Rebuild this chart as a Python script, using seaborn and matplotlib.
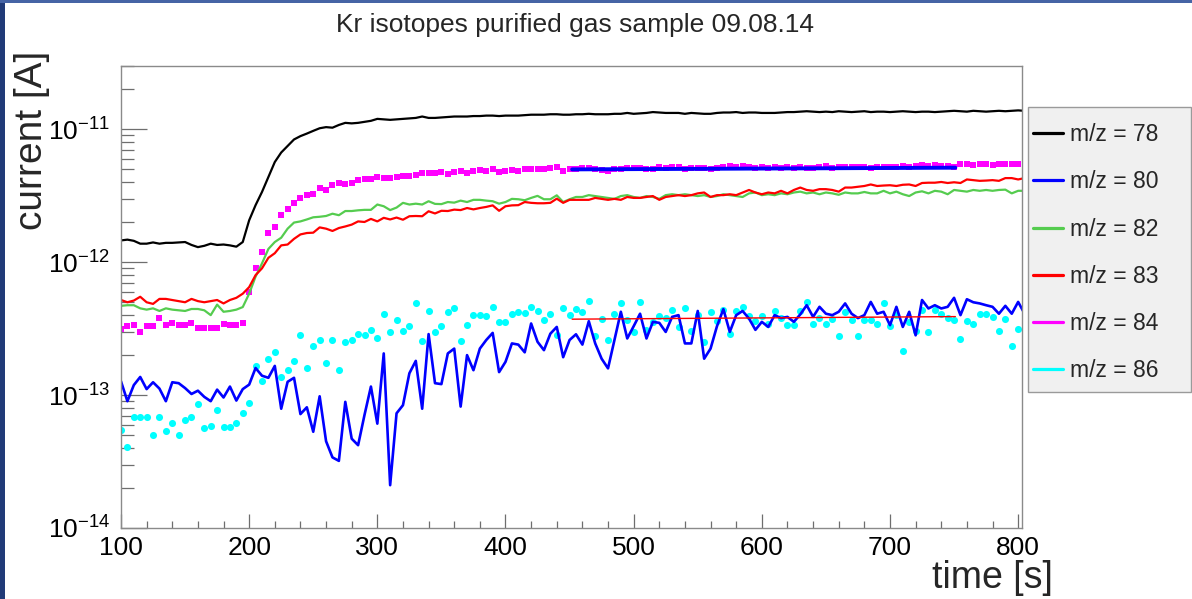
import numpy as np
import matplotlib
matplotlib.use("Agg")
import matplotlib.pyplot as plt
import seaborn as sns
from matplotlib.lines import Line2D
from matplotlib.patches import Rectangle
from matplotlib.ticker import (FixedLocator, LogFormatterMathtext, MultipleLocator,
                               NullFormatter)

# ---------------- data (currents in pA) ----------------
time_s = np.arange(100, 806, 5)

mz78 = [1.46, 1.48, 1.45, 1.38, 1.38, 1.41, 1.38, 1.40, 1.40, 1.41,
        1.42, 1.35, 1.30, 1.33, 1.38, 1.35, 1.36, 1.34, 1.31, 1.42,
        2.07, 2.69, 3.38, 4.38, 5.68, 6.7, 7.5, 8.4, 8.9, 9.3,
        9.75, 10.2, 10.4, 10.3, 10.8, 11.2,
        11.1, 11.2, 11.4, 11.6, 12.0, 11.9, 11.8, 11.9, 12.0, 12.1,
        12.2, 12.5, 12.2, 12.2, 12.3, 12.4, 12.5, 12.5, 12.5, 12.6,
        12.6, 12.7, 12.7, 12.6, 12.7, 12.7, 12.7, 12.8, 12.9, 12.9,
        12.9, 13.0, 13.0, 12.9, 12.9, 13.0,
        13.0, 13.1, 13.0, 13.0, 13.0, 13.1, 13.1, 13.3, 13.1, 13.2,
        13.3, 13.5, 13.4, 13.3, 13.3, 13.3, 13.1, 13.3, 13.2, 13.1,
        13.1, 13.3, 13.4, 13.4, 13.5, 13.3, 13.4, 13.4, 13.3, 13.3,
        13.3, 13.4, 13.5, 13.5, 13.6, 13.7,
        13.6, 13.5, 13.6, 13.5, 13.7, 13.6, 13.5, 13.6, 13.7, 13.5,
        13.6, 13.6, 13.5, 13.6, 13.7, 13.6, 13.5, 13.6, 13.6, 13.5,
        13.6, 13.7, 13.8, 13.7, 13.6, 13.8, 13.7, 13.6, 13.7, 13.8,
        13.7, 13.8, 13.9, 13.8]

mz80 = [0.127, 0.090, 0.119, 0.137, 0.111, 0.125, 0.112, 0.090, 0.125, 0.123,
        0.113, 0.102, 0.108, 0.097, 0.090, 0.110, 0.096, 0.116, 0.091, 0.111,
        0.120, 0.160, 0.140, 0.135, 0.166, 0.079, 0.126, 0.135, 0.072, 0.081,
        0.053, 0.098, 0.045, 0.034, 0.032, 0.089,
        0.047, 0.042, 0.071, 0.116, 0.061, 0.206, 0.021, 0.073, 0.084, 0.146,
        0.181, 0.079, 0.288, 0.123, 0.121, 0.206, 0.224, 0.082, 0.200, 0.154,
        0.224, 0.260, 0.294, 0.149, 0.178, 0.245, 0.240, 0.210, 0.346, 0.252,
        0.218, 0.290, 0.326, 0.193, 0.260, 0.287,
        0.240, 0.360, 0.245, 0.188, 0.159, 0.260, 0.424, 0.267, 0.330, 0.410,
        0.267, 0.356, 0.350, 0.299, 0.388, 0.400, 0.245, 0.245, 0.430, 0.188,
        0.224, 0.330, 0.444, 0.299, 0.400, 0.430, 0.377, 0.310, 0.356, 0.326,
        0.400, 0.380, 0.388, 0.356, 0.405, 0.475,
        0.388, 0.462, 0.410, 0.400, 0.424, 0.490, 0.410, 0.380, 0.400, 0.503,
        0.410, 0.424, 0.336, 0.462, 0.326, 0.424, 0.282, 0.520, 0.449, 0.475,
        0.449, 0.462, 0.540, 0.400, 0.527, 0.500, 0.490, 0.475, 0.462, 0.410,
        0.470, 0.410, 0.503, 0.410]

mz82 = [0.47, 0.475, 0.475, 0.45, 0.44, 0.45, 0.43, 0.45, 0.44, 0.435,
        0.43, 0.445, 0.445, 0.435, 0.40, 0.48, 0.424, 0.43, 0.44, 0.46,
        0.58, 0.78, 0.98, 1.26, 1.42, 1.53, 1.79, 1.99, 2.03, 2.1,
        2.18, 2.2, 2.23, 2.32, 2.26, 2.43,
        2.43, 2.46, 2.48, 2.48, 2.72, 2.64, 2.47, 2.58, 2.8, 2.72,
        2.76, 2.72, 2.88, 2.75, 2.74, 2.84, 2.81, 2.91, 2.84, 2.95,
        2.95, 2.91, 2.88, 2.76, 2.84, 3.0, 2.98, 2.93, 3.05, 3.16,
        2.98, 2.98, 3.19, 2.84, 2.98, 3.1,
        3.1, 3.2, 3.15, 3.1, 3.05, 3.0, 3.15, 3.2, 3.1, 3.05,
        3.15, 3.1, 3.0, 3.2, 3.25, 3.2, 3.25, 3.2, 3.15, 3.2,
        3.1, 3.15, 3.25, 3.2, 3.15, 3.1, 3.3, 3.35, 3.2, 3.25,
        3.2, 3.3, 3.25, 3.35, 3.4, 3.3,
        3.35, 3.25, 3.35, 3.3, 3.22, 3.35, 3.3, 3.3, 3.38, 3.3,
        3.3, 3.45, 3.3, 3.4, 3.25, 3.15, 3.35, 3.42, 3.3, 3.45,
        3.4, 3.25, 3.5, 3.45, 3.4, 3.5, 3.45, 3.5, 3.45, 3.5,
        3.52, 3.3, 3.45, 3.45]

mz83 = [0.52, 0.50, 0.515, 0.55, 0.50, 0.486, 0.53, 0.53, 0.52, 0.51,
        0.50, 0.53, 0.51, 0.50, 0.51, 0.52, 0.49, 0.52, 0.54, 0.58,
        0.65, 0.80, 0.90, 1.08, 1.17, 1.34, 1.36, 1.50, 1.62, 1.66,
        1.67, 1.83, 1.79, 1.72, 1.81, 1.86,
        1.92, 2.03, 2.01, 2.12, 2.03, 2.16, 2.1, 2.17, 2.09, 2.22,
        2.23, 2.22, 2.42, 2.33, 2.44, 2.43, 2.49, 2.47, 2.56, 2.5,
        2.56, 2.61, 2.68, 2.44, 2.64, 2.68, 2.69, 2.84, 2.8, 2.78,
        2.78, 2.8, 3.01, 2.8, 2.95, 2.95,
        2.95, 2.95, 3.05, 3.0, 2.95, 3.0, 2.95, 3.1, 3.05, 3.05,
        3.1, 3.15, 2.95, 3.1, 3.15, 3.2, 3.15, 3.2, 3.3, 3.35,
        3.1, 3.2, 3.2, 3.25, 3.2, 3.35, 3.5, 3.35, 3.25, 3.35,
        3.3, 3.45, 3.3, 3.5, 3.65, 3.5,
        3.45, 3.55, 3.55, 3.5, 3.4, 3.65, 3.65, 3.7, 3.75, 3.85,
        3.75, 3.78, 3.8, 3.75, 3.83, 3.85, 3.75, 3.95, 3.97, 3.97,
        4.02, 3.95, 4.0, 3.95, 4.2, 4.15, 4.1, 4.12, 4.15, 4.1,
        4.3, 4.3, 4.2, 4.3]

mz84 = [0.317, 0.33, 0.34, 0.30, 0.33, 0.33, 0.38, 0.34, 0.35, 0.34,
        0.34, 0.35, 0.32, 0.32, 0.32, 0.32, 0.345, 0.34, 0.34, 0.35,
        0.6, 0.90, 1.2, 1.65, 1.84, 2.26, 2.53, 2.8, 3.05, 3.19,
        3.27, 3.62, 3.48, 3.79, 3.95, 3.91,
        3.97, 4.14, 4.2, 4.26, 4.35, 4.28, 4.33, 4.38, 4.43, 4.48,
        4.54, 4.7, 4.72, 4.72, 4.75, 4.62, 4.8, 4.83, 4.67, 4.83,
        4.92, 4.83, 5.0, 4.75, 4.86, 4.95, 4.83, 5.0, 5.0, 5.06,
        5.0, 5.09, 5.21, 4.83, 5.0, 5.0,
        5.1, 5.15, 5.0, 4.95, 4.9, 5.05, 5.0, 5.1, 5.15, 5.1,
        5.0, 5.05, 5.2, 5.15, 5.2, 5.2, 5.05, 5.1, 5.15, 5.1,
        5.0, 5.15, 5.2, 5.3, 5.25, 5.3, 5.2, 5.15, 5.2, 5.1,
        5.2, 5.15, 5.2, 5.15, 5.25, 5.1,
        5.1, 5.2, 5.3, 5.15, 5.2, 5.25, 5.2, 5.2, 5.25, 5.15,
        5.2, 5.25, 5.2, 5.25, 5.3, 5.25, 5.3, 5.35, 5.3, 5.35,
        5.3, 5.3, 5.25, 5.45, 5.5, 5.4, 5.45, 5.5, 5.4, 5.45,
        5.5, 5.45, 5.5, 5.3]

mz86 = [0.055, 0.041, 0.068, 0.069, 0.069, 0.050, 0.068, 0.054, 0.062, 0.050,
        0.0645, 0.068, 0.0855, 0.0565, 0.059, 0.0767, 0.058, 0.058, 0.062, 0.074,
        0.088, 0.165, 0.128, 0.188, 0.21, 0.137, 0.154, 0.18, 0.285, 0.16,
        0.233, 0.262, 0.176, 0.26, 0.154, 0.252,
        0.262, 0.288, 0.282, 0.311, 0.27, 0.41, 0.30, 0.366, 0.305, 0.333,
        0.49, 0.255, 0.43, 0.299, 0.33, 0.42, 0.449, 0.255, 0.34, 0.40,
        0.40, 0.395, 0.457, 0.356, 0.356, 0.41, 0.424, 0.418, 0.462, 0.433,
        0.366, 0.41, 0.285, 0.449, 0.40, 0.444,
        0.424, 0.51, 0.28, 0.372, 0.26, 0.405, 0.497, 0.37, 0.30, 0.50,
        0.307, 0.356, 0.395, 0.382, 0.44, 0.323, 0.452, 0.305, 0.40, 0.252,
        0.42, 0.362, 0.44, 0.29, 0.43, 0.462, 0.395, 0.36, 0.395, 0.346,
        0.43, 0.382, 0.336, 0.336, 0.43, 0.503,
        0.346, 0.383, 0.346, 0.372, 0.28, 0.42, 0.37, 0.279, 0.366, 0.366,
        0.346, 0.49, 0.333, 0.40, 0.215, 0.356, 0.305, 0.437, 0.299, 0.437,
        0.41, 0.383, 0.366, 0.264, 0.36, 0.343, 0.41, 0.41, 0.388, 0.303,
        0.377, 0.233, 0.317, 0.305]

# straight-line fits over the plateau
fit_t = [452, 751]
fit_84 = [5.0, 5.15]
fit_86 = [0.373, 0.39]

labels = ["m/z = 78", "m/z = 80", "m/z = 82", "m/z = 83", "m/z = 84", "m/z = 86"]
colors = ["#000000", "#0000ff", "#55cc4f", "#ff0000", "#ff00ff", "#00ffff"]
y_decades = [1e-14, 1e-13, 1e-12, 1e-11]

pA = 1e-12

# ---------------- style ----------------
sns.set_theme(style="white")
plt.rcParams["font.family"] = ["Liberation Sans", "DejaVu Sans"]
plt.rcParams["mathtext.fontset"] = "custom"
plt.rcParams["mathtext.rm"] = "Liberation Sans"
plt.rcParams["mathtext.it"] = "Liberation Sans:italic"
plt.rcParams["mathtext.bf"] = "Liberation Sans:bold"

fig = plt.figure(figsize=(11.92, 5.99), dpi=100)
fig.patch.set_facecolor("white")
ax = fig.add_axes([121 / 1192, 1 - 528 / 599, (1022 - 121) / 1192, (528 - 66) / 599])
ax.set_facecolor("white")

# ---------------- data marks ----------------
sns.lineplot(x=time_s, y=np.array(mz78) * pA, ax=ax, color=colors[0], lw=1.6,
             estimator=None, sort=False, legend=False)
sns.lineplot(x=time_s, y=np.array(mz80) * pA, ax=ax, color=colors[1], lw=1.9,
             estimator=None, sort=False, legend=False)
sns.lineplot(x=time_s, y=np.array(mz82) * pA, ax=ax, color=colors[2], lw=1.6,
             estimator=None, sort=False, legend=False)
sns.lineplot(x=time_s, y=np.array(mz83) * pA, ax=ax, color=colors[3], lw=1.6,
             estimator=None, sort=False, legend=False)
sns.scatterplot(x=time_s, y=np.array(mz84) * pA, ax=ax, color=colors[4], marker="s",
                s=13, linewidth=0, legend=False)
sns.scatterplot(x=time_s, y=np.array(mz86) * pA, ax=ax, color=colors[5], marker="o",
                s=26, linewidth=0, legend=False)
sns.lineplot(x=fit_t, y=np.array(fit_84) * pA, ax=ax, color="#0000ff", lw=2.8,
             estimator=None, sort=False, legend=False)
sns.lineplot(x=fit_t, y=np.array(fit_86) * pA, ax=ax, color="#ff0000", lw=1.0,
             estimator=None, sort=False, legend=False)

# ---------------- axes ----------------
ax.set_yscale("log")
ax.set_xlim(100, 803)
ax.set_ylim(1e-14, 3e-11)
ax.set_xlabel("")
ax.set_ylabel("")

ax.xaxis.set_major_locator(MultipleLocator(100))
ax.xaxis.set_minor_locator(MultipleLocator(20))
ax.yaxis.set_major_locator(FixedLocator(y_decades))
minor_y = [m * d for d in y_decades for m in range(2, 10) if m * d <= 3e-11]
ax.yaxis.set_minor_locator(FixedLocator(minor_y))
ax.yaxis.set_major_formatter(LogFormatterMathtext())
ax.yaxis.set_minor_formatter(NullFormatter())

tick_col = "#6e6e6e"
ax.tick_params(axis="x", which="major", direction="in", length=10, width=0.9,
               color=tick_col, labelsize=19, pad=6, labelcolor="black",
               bottom=True, top=False)
ax.tick_params(axis="x", which="minor", direction="in", length=5, width=0.9,
               color=tick_col, bottom=True, top=False)
ax.tick_params(axis="y", which="major", direction="in", length=19, width=0.9,
               color=tick_col, labelsize=19, pad=8, labelcolor="black",
               left=True, right=False)
ax.tick_params(axis="y", which="minor", direction="in", length=9.5, width=0.9,
               color=tick_col, left=True, right=False)
for sp in ax.spines.values():
    sp.set_color("#8a8a8a")
    sp.set_linewidth(1.0)
    sp.set_visible(True)

# ---------------- texts ----------------
fig.text(575.5 / 1192, 1 - 25 / 599, "Kr isotopes purified gas sample 09.08.14",
         ha="center", va="center", fontsize=19)
fig.text(32 / 1192, 1 - 140 / 599, "current [A]", rotation=90,
         ha="center", va="center", fontsize=28)
fig.text(992 / 1192, 1 - 578 / 599, "time [s]", ha="center", va="center", fontsize=27)

# ---------------- legend ----------------
fig.add_artist(Rectangle((1028 / 1192, 1 - 392 / 599), (1191 - 1028) / 1192,
                         (392 - 107) / 599, transform=fig.transFigure,
                         facecolor="#f0f0f0", edgecolor="#9a9a9a", lw=1.0, zorder=0))
handles = [Line2D([], [], color=c, lw=2.3) for c in colors]
ax.legend(handles, labels, loc="upper left",
          bbox_to_anchor=(1033 / 1192, 1 - 123 / 599), bbox_transform=fig.transFigure,
          frameon=False, fontsize=16.5, handlelength=1.3, handletextpad=0.3,
          labelspacing=1.06, borderpad=0, borderaxespad=0)

# ---------------- frame decoration ----------------
fig.add_artist(Rectangle((0, 0), 5 / 1192, 1, transform=fig.transFigure,
                         facecolor="#213b78", edgecolor="none"))
fig.add_artist(Rectangle((0, 1 - 3 / 599), 1, 3 / 599, transform=fig.transFigure,
                         facecolor="#4664a5", edgecolor="none"))

fig.savefig("out.png", dpi=100)
